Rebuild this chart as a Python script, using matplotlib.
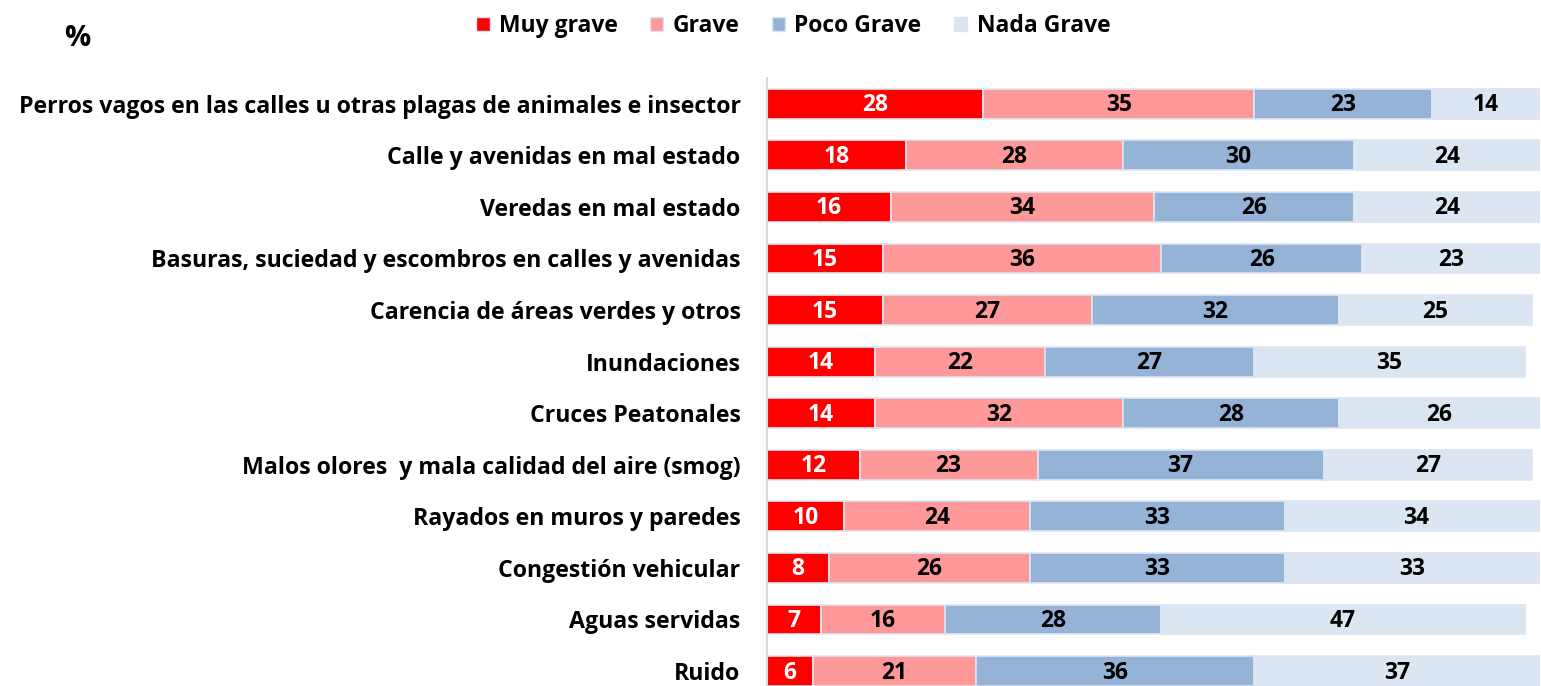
import matplotlib.pyplot as plt
from matplotlib.patches import Patch
import numpy as np

categories = ['Perros vagos en las calles u otras plagas de animales e insector',
              'Calle y avenidas en mal estado',
              'Veredas en mal estado',
              'Basuras, suciedad y escombros en calles y avenidas',
              'Carencia de áreas verdes y otros',
              'Inundaciones',
              'Cruces Peatonales',
              'Malos olores  y mala calidad del aire (smog)',
              'Rayados en muros y paredes',
              'Congestión vehicular',
              'Aguas servidas',
              'Ruido']
muy_grave = [28, 18, 16, 15, 15, 14, 14, 12, 10, 8, 7, 6]
grave = [35, 28, 34, 36, 27, 22, 32, 23, 24, 26, 16, 21]
poco_grave = [23, 30, 26, 26, 32, 27, 28, 37, 33, 33, 28, 36]
nada_grave = [14, 24, 24, 23, 25, 35, 26, 27, 34, 33, 47, 37]

series = ['Muy grave', 'Grave', 'Poco Grave', 'Nada Grave']
colors = ['#FF0000', '#FF9999', '#95B3D7', '#DCE6F2']
text_colors = ['white', 'black', 'black', 'black']

plt.rcParams['font.family'] = ['Open Sans', 'DejaVu Sans']
plt.rcParams['font.weight'] = 'bold'

W, H = 1541, 686
fig = plt.figure(figsize=(W / 100, H / 100), dpi=100)
ax = fig.add_axes([767 / W, 0, 773 / W, 1 - 78 / H])

y = np.arange(len(categories))
left = np.zeros(len(categories))
for vals, name, c, tc in zip([muy_grave, grave, poco_grave, nada_grave], series, colors, text_colors):
    vals = np.array(vals, dtype=float)
    ax.barh(y, vals, left=left, height=0.58, color=c, edgecolor='#DCE6F2', linewidth=1.2, label=name)
    for yi, l, v in zip(y, left, vals):
        ax.text(l + v / 2, yi + 0.03, f'{int(v)}', ha='center', va='center',
                fontsize=16.5, fontweight='bold', color=tc)
    left += vals

ax.set_xlim(0, 100)
ax.set_ylim(11.29, -0.5)
ax.set_yticks(y)
ax.set_yticklabels(categories, fontsize=16.7, fontweight='bold')
ax.tick_params(axis='y', length=0, pad=19)
ax.set_xticks([])
for s in ['top', 'right', 'bottom']:
    ax.spines[s].set_visible(False)
ax.spines['left'].set_color('#D9D9D9')
ax.spines['left'].set_linewidth(1.5)

handles = [Patch(facecolor=c, edgecolor='#DCE6F2') for c in colors]
fig.legend(handles, series, loc='center', bbox_to_anchor=(793 / W, 1 - 26 / H), ncol=4,
           frameon=False, prop={'size': 16.5, 'weight': 'bold'}, handlelength=0.6,
           handleheight=0.6, handletextpad=0.4, columnspacing=1.4)

fig.text(77 / W, 1 - 39 / H, '%', ha='center', va='center', fontsize=21, fontweight='bold')

fig.savefig('out.png', dpi=100)
